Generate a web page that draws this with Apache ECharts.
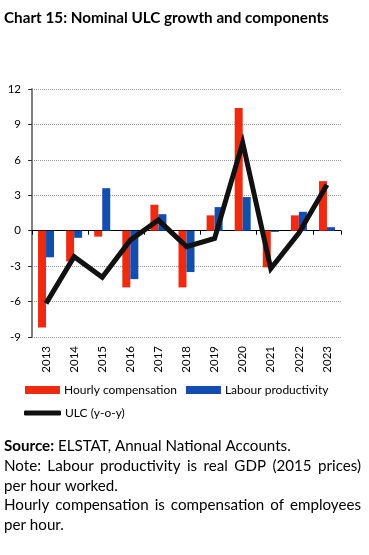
<!DOCTYPE html>
<html><head><meta charset="utf-8">
<script src="https://cdn.jsdelivr.net/npm/echarts@6/dist/echarts.min.js"></script>
<style>html,body{margin:0;padding:0;background:#fff}#c{width:369px;height:555px}</style>
</head><body><div id="c"></div>
<script>
const years = ['2013','2014','2015','2016','2017','2018','2019','2020','2021','2022','2023'];
const hourlyComp = [-8.2, -2.6, -0.5, -4.8, 2.2, -4.8, 1.3, 10.4, -3.1, 1.3, 4.2];
const labourProd = [-2.25, -0.6, 3.6, -4.1, 1.4, -3.5, 2.0, 2.85, -0.1, 1.6, 0.3];
const ulc = [-6.15, -2.2, -3.95, -0.8, 0.9, -1.35, -0.65, 7.45, -3.2, -0.2, 3.9];
const yTicks = {min: -9, max: 12, interval: 3};

const FONT = 'Lato';
const ctx = document.createElement('canvas').getContext('2d');
function mw(t, size, weight){ ctx.font = (weight||'normal') + ' ' + size + 'px ' + FONT; return ctx.measureText(t).width; }

const titleText = 'Chart 15: Nominal ULC growth and components';
const titleSize = Math.min(16, 14 * 325 / mw(titleText, 14, 'bold'));
const noteSize = Math.min(15.5, 14 * 287 / (mw('Source:', 14, 'bold') + mw(' ELSTAT, Annual National Accounts.', 14)));
const lineH = 19.6;
const notes = [
  ['Note: Labour productivity is real GDP (2015 prices)', 357],
  ['per hour worked.', null],
  ['Hourly compensation is compensation of employees', 357],
  ['per hour.', null]
];
const graphics = [];
graphics.push({type:'text', left:4, top:11, style:{text:titleText, font:'bold '+titleSize+'px '+FONT, fill:'#000'}});
graphics.push({type:'text', left:4, top:439, style:{text:'{b|Source:} ELSTAT, Annual National Accounts.', font:noteSize+'px '+FONT, fill:'#000', rich:{b:{fontWeight:'bold', fontSize:noteSize, fontFamily:FONT}}}});
notes.forEach((n, i) => {
  const top = 439 + lineH*(i+1);
  if (!n[1]) { graphics.push({type:'text', x:4, y:top, style:{text:n[0], font:noteSize+'px '+FONT, fill:'#000'}}); return; }
  const words = n[0].split(' ');
  const total = words.reduce((s,w)=>s+mw(w,noteSize),0);
  const gap = (n[1] - total)/(words.length-1);
  let x = 4;
  words.forEach(w => { graphics.push({type:'text', x:x, y:top, style:{text:w, font:noteSize+'px '+FONT, fill:'#000'}}); x += mw(w,noteSize)+gap; });
});

const chart = echarts.init(document.getElementById('c'), null, {renderer:'canvas'});
chart.setOption({
  animation:false,
  textStyle:{fontFamily:FONT},
  grid:{left:32, right:28, top:89, bottom:218, containLabel:false},
  legend:[
    {data:['Hourly compensation','Labour productivity'], left:20, top:379, itemWidth:35, itemHeight:8, itemGap:9, icon:'rect',
     textStyle:{fontSize:12, color:'#000', fontFamily:FONT, padding:[0,0,0,-1]}},
    {data:[{name:'ULC (y-o-y)', icon:'roundRect'}], left:19, top:402, itemWidth:37, itemHeight:5, textStyle:{fontSize:12, color:'#000', fontFamily:FONT, padding:[0,0,0,-1]}}
  ],
  xAxis:[
    {type:'category', data:years, position:'bottom', axisLine:{onZero:true, lineStyle:{color:'#000', width:1}},
     axisTick:{show:true, length:4, inside:false, lineStyle:{color:'#000'}}, axisLabel:{show:false}, splitLine:{show:false}},
    {type:'category', data:years, position:'bottom', axisLine:{show:false}, axisTick:{show:false},
     axisLabel:{rotate:90, fontSize:11.5, color:'#000', margin:9, fontFamily:FONT}}
  ],
  yAxis:{type:'value', min:yTicks.min, max:yTicks.max, interval:yTicks.interval,
    axisLine:{show:true, lineStyle:{color:'#808080', width:2}},
    axisTick:{show:true, length:4, lineStyle:{color:'#333'}},
    axisLabel:{fontSize:11.5, color:'#000', margin:11, fontFamily:FONT},
    splitLine:{show:true, lineStyle:{type:'dotted', color:'#999', width:1}}},
  series:[
    {name:'Hourly compensation', type:'bar', data:hourlyComp, barWidth:8, barGap:'0%', itemStyle:{color:'#ee2a10'}, z:2},
    {name:'Labour productivity', type:'bar', data:labourProd, barWidth:8, barGap:'0%', itemStyle:{color:'#134db0'}, z:2},
    {name:'ULC (y-o-y)', type:'line', data:ulc, symbol:'none', lineStyle:{color:'#111', width:5, join:'miter'}, itemStyle:{color:'#111'}, z:5}
  ],
  graphic:graphics
});
</script></body></html>
